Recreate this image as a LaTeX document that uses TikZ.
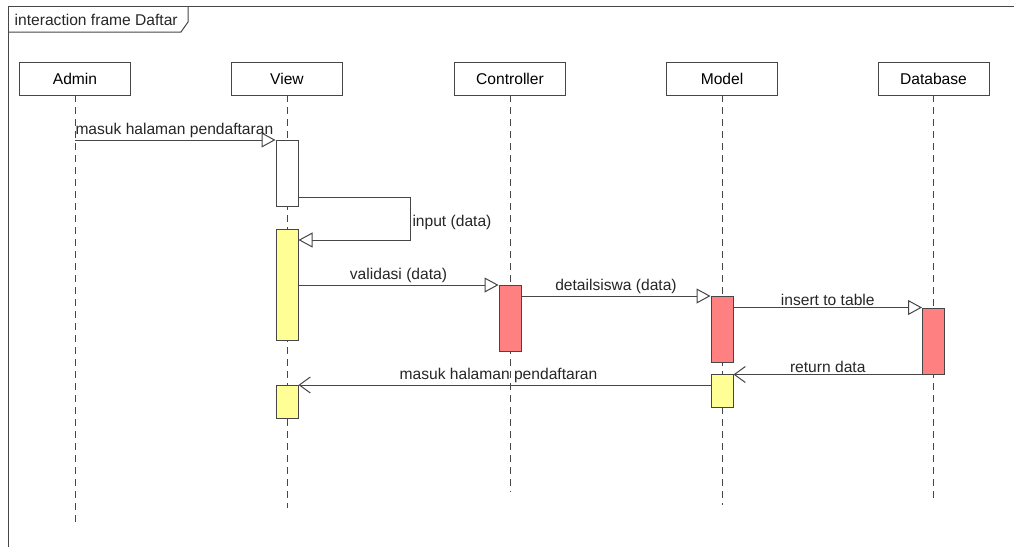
\documentclass[tikz,border=0pt]{standalone}
\usepackage{fontspec}
\setmainfont{Liberation Sans}
\usepackage{xcolor}
\usetikzlibrary{arrows.meta, positioning}
\definecolor{linegray}{RGB}{70,70,70}
\definecolor{actyellow}{RGB}{255,255,150}
\definecolor{actred}{RGB}{255,128,128}
\tikzset{
  lifebox/.style={rectangle, draw=linegray, fill=white, line width=0.9pt,
                  minimum width=111pt, minimum height=33pt, font=\fontsize{15.6}{18}\selectfont},
  act/.style={rectangle, draw=linegray, line width=1pt, minimum width=22pt, inner sep=0pt, anchor=north},
  lifeline/.style={draw=linegray, dash pattern=on 7pt off 5pt, line width=0.9pt},
  msg/.style={draw=linegray, line width=1pt, -{Triangle[length=14pt, width=15pt, fill=white]}},
  reply/.style={draw=linegray, line width=1pt, -{Straight Barb[length=11pt, width=16pt]}},
  lbl/.style={font=\fontsize{15.6}{18}\selectfont, text=black!85, inner sep=1.5pt},
}

\begin{document}
\begin{tikzpicture}[x=1pt, y=-1pt]
\useasboundingbox (0,0) rectangle (1014,547);
\draw[linegray, line width=1pt] (8,547) -- (8,6) -- (1014,6);
\draw[linegray, line width=1pt] (8,32) -- (181,32) -- (188,22) -- (188,6);
\node[lbl, anchor=west] (title) at (13,19.5) {interaction frame Daftar};

\node[lifebox] (admin) at (75,78.5)  {Admin};
\node[lifebox] (view)  at (287,78.5) {View};
\node[lifebox] (ctrl)  at (510,78.5) {Controller};
\node[lifebox] (model) at (722,78.5) {Model};
\node[lifebox] (db)    at (933.5,78.5) {Database};

\coordinate (adminEnd) at (75,522);
\coordinate (viewEnd)  at (287,508);
\coordinate (ctrlEnd)  at (510,492);
\coordinate (modelEnd) at (722,505);
\coordinate (dbEnd)    at (933.5,498);

\draw[lifeline] (admin) -- (adminEnd);
\draw[lifeline] (view)  -- (viewEnd);
\draw[lifeline] (ctrl)  -- (ctrlEnd);
\draw[lifeline] (model) -- (modelEnd);
\draw[lifeline] (db)    -- (dbEnd);

\node[act, fill=white,     minimum height=66pt]  (v1) at (287,140)   {};
\node[act, fill=actyellow, minimum height=111pt] (v2) at (287,229)   {};
\node[act, fill=actred,    minimum height=66pt]  (c1) at (510,285)   {};
\node[act, fill=actred,    minimum height=66pt]  (m1) at (722,296)   {};
\node[act, fill=actred,    minimum height=66pt]  (d1) at (933.5,307.5) {};
\node[act, fill=actyellow, minimum height=33pt]  (m2) at (722,374)   {};
\node[act, fill=actyellow, minimum height=33pt]  (v3) at (287,385)   {};

\draw[msg] (admin.south |- v1.north) -- node[lbl, above right, pos=0, xshift=-1.5pt] {masuk halaman pendaftaran} (v1.north west);
\draw[msg] ([yshift=10pt]v1.south east) -- ++(112,0) |- node[lbl, right, pos=0.3] {input (data)} ([yshift=-11pt]v2.north east);
\draw[msg] (v2.east |- c1.north) -- node[lbl, above] {validasi (data)} (c1.north west);
\draw[msg] (c1.east |- m1.north) -- node[lbl, above] {detailsiswa (data)} (m1.north west);
\draw[msg] (m1.east |- d1.north) -- node[lbl, above] {insert to table} (d1.north west);
\draw[reply] (d1.south west) -- node[lbl, above] {return data} (d1.south west -| m2.east);
\draw[reply] (m2.west |- v3.north) -- node[lbl, above, xshift=-6pt] {masuk halaman pendaftaran} (v3.north east);
\end{tikzpicture}
\end{document}
